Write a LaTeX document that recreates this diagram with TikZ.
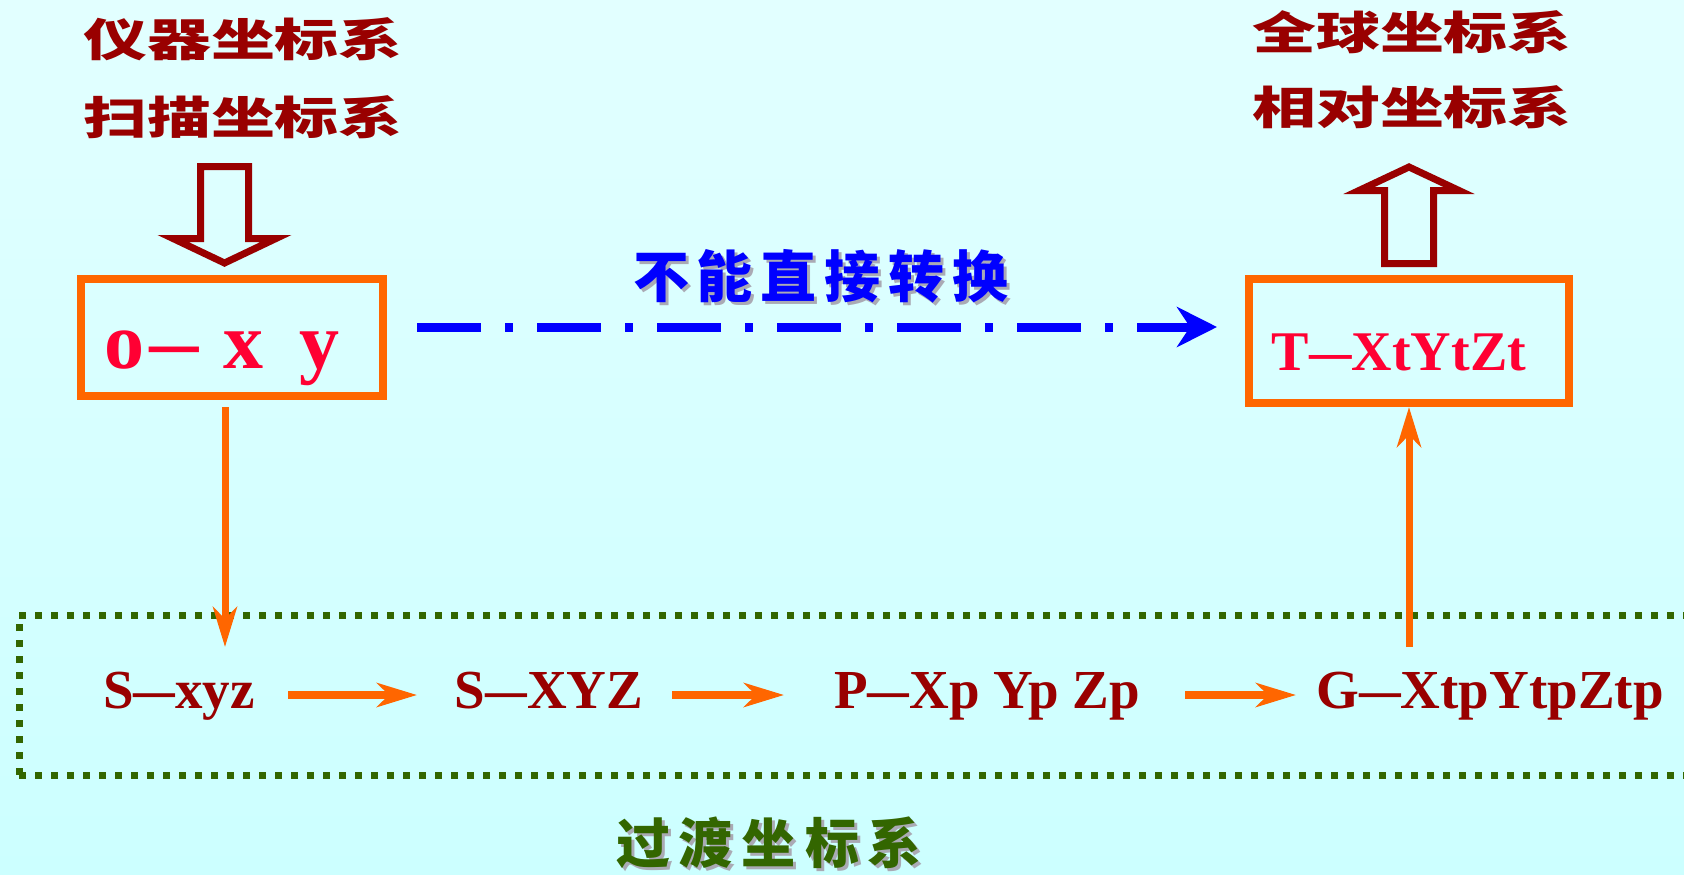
\documentclass[tikz,border=0pt]{standalone}
\usepackage{fontspec}
\usepackage{graphicx}
\setmainfont{Liberation Serif}
\newfontfamily\cjk{Noto Sans CJK SC}
\usetikzlibrary{arrows.meta}
\definecolor{bgtop}{RGB}{226,255,255}
\definecolor{bgbot}{RGB}{204,255,255}
\definecolor{dred}{RGB}{153,0,0}
\definecolor{bred}{RGB}{255,0,51}
\definecolor{orng}{RGB}{255,102,0}
\definecolor{dgreen}{RGB}{51,102,0}
\definecolor{shadowgray}{RGB}{170,170,180}
\newcommand\cgap{\hspace{8pt}}
\newcommand\ggap{\hspace{9pt}}
\newcommand\mdash[1]{\scalebox{#1}[1]{—}}
\begin{document}
\begin{tikzpicture}[x=1pt,y=-1pt,
  obox/.style={draw=orng,line width=8pt,rectangle,inner sep=0pt},
  head/.style={font=\cjk\bfseries\fontsize{45}{50}\selectfont,text=dred,anchor=base,inner sep=0pt},
  bigred/.style={font=\bfseries\fontsize{80}{90}\selectfont,text=bred,anchor=base,inner sep=0pt},
  midred/.style={font=\bfseries\fontsize{56}{64}\selectfont,text=bred,anchor=base,inner sep=0pt},
  lowtext/.style={font=\bfseries\fontsize{55}{62}\selectfont,text=dred,anchor=base,inner sep=0pt},
  hollow/.style={draw=dred,line width=7pt,line join=miter},
  oarr/.style={draw=orng,line width=8pt,-{Stealth[length=40pt,width=24pt,inset=12pt]}},
  varr/.style={draw=orng,line width=7pt,-{Stealth[length=40pt,width=24pt,inset=12pt]}},
  barr/.style={draw=blue,line width=9pt,dash pattern=on 64pt off 24pt on 8pt off 24pt,
    -{Stealth[length=40pt,width=40pt,inset=13pt]}},
  gdot/.style={draw=dgreen,line width=7pt,dash pattern=on 7pt off 9pt},
  bluelab/.style={font=\cjk\bfseries\fontsize{56}{62}\selectfont,anchor=base,inner sep=0pt},
  greenlab/.style={font=\cjk\bfseries\fontsize{54}{60}\selectfont,anchor=base,inner sep=0pt}
]
\shade[top color=bgtop,bottom color=bgbot] (0,0) rectangle (1684,875);
\useasboundingbox (0,0) rectangle (1684,875);

% headers
\node[head] (h1) at (243,57) {\scalebox{1.42}[1]{仪器坐标系}};
\node[head] (h2) at (243,134) {\scalebox{1.42}[1]{扫描坐标系}};
\node[head] (h3) at (1412,49) {\scalebox{1.42}[1]{全球坐标系}};
\node[head] (h4) at (1412,124) {\scalebox{1.42}[1]{相对坐标系}};

% hollow arrows
\draw[hollow] (200.5,166.5) -- (248.5,166.5) -- (248.5,238.5) -- (276,238.5)
  -- (224.5,263) -- (173,238.5) -- (200.5,238.5) -- cycle;
\draw[hollow] (1384.5,263.5) -- (1433.5,263.5) -- (1433.5,190.5) -- (1459,190.5)
  -- (1409,167) -- (1359,190.5) -- (1384.5,190.5) -- cycle;

% boxes
\node[obox,minimum width=302pt,minimum height=117pt] (box1) at (232,337.5) {};
\node[obox,minimum width=320pt,minimum height=124pt] (box2) at (1409,341) {};
\node[bigred] (t1) at (222,368) {o\hspace{5pt}\mdash{0.62}\hspace{5pt} x\hspace{16pt} y};
\node[midred] (t2) at (1399,370) {T\mdash{0.76}XtYtZt};

% blue label and arrow
\node[bluelab,text=shadowgray] (nlabs) at (824,300)
  {不\cgap 能\cgap 直\cgap 接\cgap 转\cgap 换};
\node[bluelab,text=blue] (nlab) at (821,297)
  {不\cgap 能\cgap 直\cgap 接\cgap 转\cgap 换};
\coordinate (bs) at (417,327);
\coordinate (be) at (1217,327);
\draw[barr] (bs) -- (be);

% green dotted frame
\draw[gdot] (19,775) -- (19,615) -- (1700,615);
\draw[gdot] (19,775) -- (1700,775);

% bottom chain
\node[lowtext] (s1) at (179,708) {S\mdash{0.76}xyz};
\node[lowtext] (s2) at (549,708) {S\mdash{0.76}XYZ};
\node[lowtext] (s3) at (987,708) {P\mdash{0.76}Xp Yp Zp};
\node[lowtext] (s4) at (1490,708) {G\mdash{0.76}XtpYtpZtp};

\coordinate (a1s) at (288,695); \coordinate (a1e) at (417,695);
\coordinate (a2s) at (672,695); \coordinate (a2e) at (784,695);
\coordinate (a3s) at (1185,695); \coordinate (a3e) at (1296,695);
\draw[oarr] (a1s) -- (a1e);
\draw[oarr] (a2s) -- (a2e);
\draw[oarr] (a3s) -- (a3e);

\coordinate (dtop) at (225,407); \coordinate (dend) at (225,647);
\draw[varr] (dtop) -- (dend);
\coordinate (ustart) at (1409,647);
\draw[varr] (ustart) -- (box2.south);

% green label
\node[greenlab,text=shadowgray] (glabs) at (772,866)
  {过\ggap 渡\ggap 坐\ggap 标\ggap 系};
\node[greenlab,text=dgreen] (glab) at (769,863)
  {过\ggap 渡\ggap 坐\ggap 标\ggap 系};
\end{tikzpicture}
\end{document}
